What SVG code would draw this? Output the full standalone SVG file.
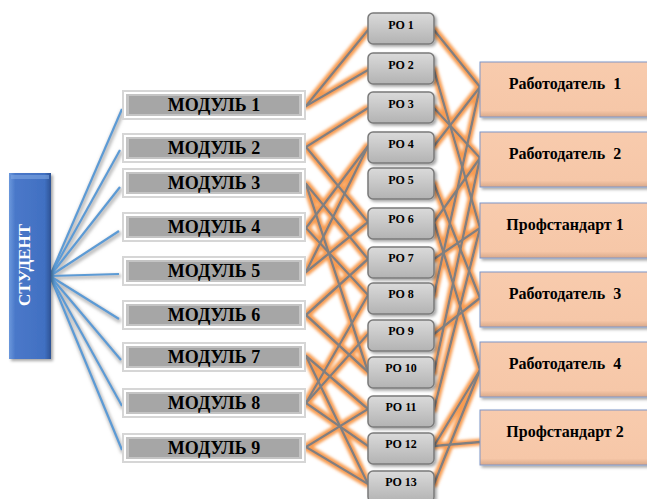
<svg xmlns="http://www.w3.org/2000/svg" width="647" height="499" viewBox="0 0 647 499">
<defs>
  <linearGradient id="studG" x1="0" y1="0" x2="1" y2="0">
    <stop offset="0" stop-color="#6b98dc"/>
    <stop offset="0.15" stop-color="#4a78c9"/>
    <stop offset="0.85" stop-color="#4170c2"/>
    <stop offset="1" stop-color="#2c5294"/>
  </linearGradient>
  <linearGradient id="roG" x1="0" y1="0" x2="0" y2="1">
    <stop offset="0" stop-color="#dadada"/>
    <stop offset="1" stop-color="#b3b3b3"/>
  </linearGradient>
  <linearGradient id="empG" x1="0" y1="0" x2="0" y2="1">
    <stop offset="0" stop-color="#f8cbad"/>
    <stop offset="0.88" stop-color="#f6c7a8"/>
    <stop offset="1" stop-color="#d9a98a"/>
  </linearGradient>
  <filter id="og" filterUnits="userSpaceOnUse" x="0" y="0" width="647" height="499">
    <feMorphology in="SourceAlpha" operator="dilate" radius="1.6" result="d"/>
    <feGaussianBlur in="d" stdDeviation="1.4" result="b"/>
    <feFlood flood-color="#f79646" flood-opacity="0.95"/>
    <feComposite in2="b" operator="in" result="g"/>
    <feMerge><feMergeNode in="g"/><feMergeNode in="SourceGraphic"/></feMerge>
  </filter>
  <filter id="bs" filterUnits="userSpaceOnUse" x="0" y="0" width="647" height="499">
    <feMorphology in="SourceAlpha" operator="dilate" radius="1" result="d"/>
    <feGaussianBlur in="d" stdDeviation="1.6" result="b"/>
    <feOffset in="b" dx="1" dy="2" result="o"/>
    <feFlood flood-color="#9a9a9a" flood-opacity="0.6"/>
    <feComposite in2="o" operator="in" result="g"/>
    <feMerge><feMergeNode in="g"/><feMergeNode in="SourceGraphic"/></feMerge>
  </filter>
  <filter id="sh" x="-10%" y="-10%" width="130%" height="140%">
    <feGaussianBlur in="SourceAlpha" stdDeviation="1.5" result="b"/>
    <feOffset in="b" dx="1.5" dy="2" result="o"/>
    <feFlood flood-color="#000" flood-opacity="0.35"/>
    <feComposite in2="o" operator="in" result="s"/>
    <feMerge><feMergeNode in="s"/><feMergeNode in="SourceGraphic"/></feMerge>
  </filter>
</defs>
<style>
  .serif{font-family:"Liberation Serif","Times New Roman",serif;font-weight:bold;text-anchor:middle;fill:#000}
  .mt{font-size:18px}
  .rt{font-size:12px}
  .et{font-size:16px}
  .st{font-size:17px;fill:#fff}
  .bl line{stroke:#5b9bd5;stroke-width:2.2}
  .or line{stroke:#808080;stroke-width:2.4;stroke-linecap:round}
  .mo{fill:#d6d6d6}
  .mw{fill:#fff}
  .mb{fill:#c4c4c4}
  .mi{fill:#a6a6a6}
  .ro{fill:url(#roG);stroke:#7a7a7a;stroke-width:1.5}
  .em{fill:url(#empG);stroke:#7f95c8;stroke-width:1}
</style>
<rect width="647" height="499" fill="#fff"/>

<g id="connectors">
  <g class="bl" filter="url(#bs)">
    <line x1="50" y1="276" x2="122" y2="109"/>
    <line x1="50" y1="276" x2="120" y2="150"/>
    <line x1="50" y1="276" x2="120" y2="187"/>
    <line x1="50" y1="276" x2="119" y2="231"/>
    <line x1="50" y1="276" x2="119" y2="274"/>
    <line x1="50" y1="276" x2="119" y2="319"/>
    <line x1="50" y1="276" x2="121" y2="360"/>
    <line x1="50" y1="276" x2="122" y2="406"/>
    <line x1="50" y1="276" x2="122" y2="450"/>
  </g>
  <g class="or" filter="url(#og)">
    <line x1="306" y1="106" x2="368" y2="30"/>
    <line x1="306" y1="106" x2="368" y2="70"/>
    <line x1="306" y1="147" x2="368" y2="108"/>
    <line x1="306" y1="147" x2="368" y2="222"/>
    <line x1="306" y1="184" x2="368" y2="259"/>
    <line x1="306" y1="184" x2="368" y2="372"/>
    <line x1="306" y1="228" x2="368" y2="146"/>
    <line x1="306" y1="228" x2="368" y2="295"/>
    <line x1="306" y1="272" x2="368" y2="146"/>
    <line x1="306" y1="272" x2="368" y2="222"/>
    <line x1="306" y1="315" x2="368" y2="259"/>
    <line x1="306" y1="315" x2="368" y2="372"/>
    <line x1="306" y1="356" x2="368" y2="409"/>
    <line x1="306" y1="356" x2="368" y2="484"/>
    <line x1="306" y1="403" x2="368" y2="295"/>
    <line x1="306" y1="403" x2="368" y2="334"/>
    <line x1="306" y1="403" x2="368" y2="446"/>
    <line x1="306" y1="447" x2="368" y2="409"/>
    <line x1="306" y1="447" x2="368" y2="484"/>
    <line x1="434" y1="30" x2="480" y2="87"/>
    <line x1="434" y1="70" x2="480" y2="228"/>
    <line x1="434" y1="108" x2="480" y2="158"/>
    <line x1="434" y1="146" x2="480" y2="87"/>
    <line x1="434" y1="184" x2="480" y2="298"/>
    <line x1="434" y1="222" x2="480" y2="158"/>
    <line x1="434" y1="222" x2="480" y2="370"/>
    <line x1="434" y1="259" x2="480" y2="228"/>
    <line x1="434" y1="295" x2="480" y2="87"/>
    <line x1="434" y1="334" x2="480" y2="298"/>
    <line x1="434" y1="372" x2="480" y2="158"/>
    <line x1="434" y1="409" x2="480" y2="228"/>
    <line x1="434" y1="446" x2="480" y2="370"/>
    <line x1="434" y1="446" x2="480" y2="442"/>
    <line x1="434" y1="484" x2="480" y2="370"/>
  </g>
</g>

<g id="student">
  <rect x="9" y="173" width="42" height="186" fill="url(#studG)" filter="url(#sh)"/>
  <rect x="11" y="175" width="38" height="4" fill="#7ea6e3" opacity="0.6"/>
  <text class="serif st" transform="translate(30,265) rotate(-90)">СТУДЕНТ</text>
</g>

<g id="m1"><rect class="mo" x="122" y="90" width="184" height="30"/><rect class="mw" x="124" y="92" width="180" height="26"/><rect class="mb" x="126" y="94" width="176" height="22"/><rect class="mi" x="129" y="96" width="170" height="18"/><text class="serif mt" x="214" y="111">МОДУЛЬ 1</text></g>
<g id="m2"><rect class="mo" x="122" y="133" width="184" height="30"/><rect class="mw" x="124" y="135" width="180" height="26"/><rect class="mb" x="126" y="137" width="176" height="22"/><rect class="mi" x="129" y="139" width="170" height="18"/><text class="serif mt" x="214" y="154">МОДУЛЬ 2</text></g>
<g id="m3"><rect class="mo" x="122" y="168" width="184" height="30"/><rect class="mw" x="124" y="170" width="180" height="26"/><rect class="mb" x="126" y="172" width="176" height="22"/><rect class="mi" x="129" y="174" width="170" height="18"/><text class="serif mt" x="214" y="189">МОДУЛЬ 3</text></g>
<g id="m4"><rect class="mo" x="122" y="212" width="184" height="30"/><rect class="mw" x="124" y="214" width="180" height="26"/><rect class="mb" x="126" y="216" width="176" height="22"/><rect class="mi" x="129" y="218" width="170" height="18"/><text class="serif mt" x="214" y="233">МОДУЛЬ 4</text></g>
<g id="m5"><rect class="mo" x="122" y="256" width="184" height="30"/><rect class="mw" x="124" y="258" width="180" height="26"/><rect class="mb" x="126" y="260" width="176" height="22"/><rect class="mi" x="129" y="262" width="170" height="18"/><text class="serif mt" x="214" y="277">МОДУЛЬ 5</text></g>
<g id="m6"><rect class="mo" x="122" y="300" width="184" height="30"/><rect class="mw" x="124" y="302" width="180" height="26"/><rect class="mb" x="126" y="304" width="176" height="22"/><rect class="mi" x="129" y="306" width="170" height="18"/><text class="serif mt" x="214" y="321">МОДУЛЬ 6</text></g>
<g id="m7"><rect class="mo" x="122" y="342" width="184" height="30"/><rect class="mw" x="124" y="344" width="180" height="26"/><rect class="mb" x="126" y="346" width="176" height="22"/><rect class="mi" x="129" y="348" width="170" height="18"/><text class="serif mt" x="214" y="363">МОДУЛЬ 7</text></g>
<g id="m8"><rect class="mo" x="122" y="388" width="184" height="30"/><rect class="mw" x="124" y="390" width="180" height="26"/><rect class="mb" x="126" y="392" width="176" height="22"/><rect class="mi" x="129" y="394" width="170" height="18"/><text class="serif mt" x="214" y="409">МОДУЛЬ 8</text></g>
<g id="m9"><rect class="mo" x="122" y="433" width="184" height="30"/><rect class="mw" x="124" y="435" width="180" height="26"/><rect class="mb" x="126" y="437" width="176" height="22"/><rect class="mi" x="129" y="439" width="170" height="18"/><text class="serif mt" x="214" y="454">МОДУЛЬ 9</text></g>

<g id="ro1"><rect class="ro" x="368" y="13" width="66" height="31" rx="5" filter="url(#sh)"/><text class="serif rt" x="401" y="29">РО 1</text></g>
<g id="ro2"><rect class="ro" x="368" y="53" width="66" height="31" rx="5" filter="url(#sh)"/><text class="serif rt" x="401" y="69">РО 2</text></g>
<g id="ro3"><rect class="ro" x="368" y="92" width="66" height="31" rx="5" filter="url(#sh)"/><text class="serif rt" x="401" y="108">РО 3</text></g>
<g id="ro4"><rect class="ro" x="368" y="132" width="66" height="31" rx="5" filter="url(#sh)"/><text class="serif rt" x="401" y="148">РО 4</text></g>
<g id="ro5"><rect class="ro" x="368" y="168" width="66" height="31" rx="5" filter="url(#sh)"/><text class="serif rt" x="401" y="184">РО 5</text></g>
<g id="ro6"><rect class="ro" x="368" y="208" width="66" height="31" rx="5" filter="url(#sh)"/><text class="serif rt" x="401" y="223">РО 6</text></g>
<g id="ro7"><rect class="ro" x="368" y="247" width="66" height="31" rx="5" filter="url(#sh)"/><text class="serif rt" x="401" y="262">РО 7</text></g>
<g id="ro8"><rect class="ro" x="368" y="283" width="66" height="31" rx="5" filter="url(#sh)"/><text class="serif rt" x="401" y="298">РО 8</text></g>
<g id="ro9"><rect class="ro" x="368" y="320" width="66" height="31" rx="5" filter="url(#sh)"/><text class="serif rt" x="401" y="335">РО 9</text></g>
<g id="ro10"><rect class="ro" x="368" y="357" width="66" height="31" rx="5" filter="url(#sh)"/><text class="serif rt" x="401" y="372">РО 10</text></g>
<g id="ro11"><rect class="ro" x="368" y="396" width="66" height="31" rx="5" filter="url(#sh)"/><text class="serif rt" x="401" y="411">РО 11</text></g>
<g id="ro12"><rect class="ro" x="368" y="433" width="66" height="31" rx="5" filter="url(#sh)"/><text class="serif rt" x="401" y="448">РО 12</text></g>
<g id="ro13"><rect class="ro" x="368" y="471" width="66" height="31" rx="5" filter="url(#sh)"/><text class="serif rt" x="401" y="486">РО 13</text></g>

<g id="e1"><rect class="em" x="480" y="62" width="180" height="55" filter="url(#sh)"/><text class="serif et" x="565" y="89" xml:space="preserve">Работодатель  1</text></g>
<g id="e2"><rect class="em" x="480" y="132" width="180" height="55" filter="url(#sh)"/><text class="serif et" x="565" y="159" xml:space="preserve">Работодатель  2</text></g>
<g id="p1"><rect class="em" x="480" y="203" width="180" height="55" filter="url(#sh)"/><text class="serif et" x="565" y="230">Профстандарт 1</text></g>
<g id="e3"><rect class="em" x="480" y="272" width="180" height="55" filter="url(#sh)"/><text class="serif et" x="565" y="299" xml:space="preserve">Работодатель  3</text></g>
<g id="e4"><rect class="em" x="480" y="342" width="180" height="55" filter="url(#sh)"/><text class="serif et" x="565" y="369" xml:space="preserve">Работодатель  4</text></g>
<g id="p2"><rect class="em" x="480" y="410" width="180" height="55" filter="url(#sh)"/><text class="serif et" x="565" y="437">Профстандарт 2</text></g>
</svg>
